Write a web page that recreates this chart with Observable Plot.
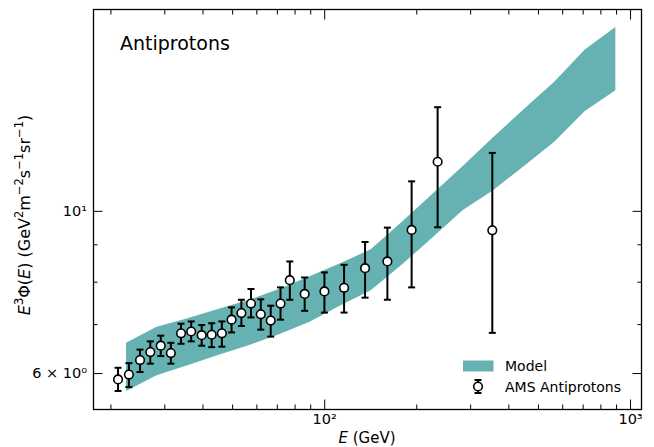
<!DOCTYPE html>
<html><head><meta charset="utf-8">
<script src="https://cdn.jsdelivr.net/npm/d3@7"></script>
<script src="https://cdn.jsdelivr.net/npm/@observablehq/plot@0.6"></script>
<style>
body{margin:0;background:#fff;}
svg{font-family:"DejaVu Sans",sans-serif;}
</style>
</head><body><div id="chart"></div>
<script>
// AMS antiproton data (E in GeV, E^3 flux)
const amsE    = [21.1, 22.9, 24.9, 26.9, 29.1, 31.4, 33.9, 36.6, 39.6, 42.7, 46.1, 49.6, 53.4, 57.4, 61.8, 66.6, 71.7, 76.9, 86.0, 99.8, 115.7, 135.5, 160.3, 192.4, 234.0, 353.2];
const amsFlux = [5.89, 5.98, 6.26, 6.42, 6.55, 6.40, 6.81, 6.85, 6.77, 6.78, 6.81, 7.11, 7.26, 7.48, 7.23, 7.09, 7.48, 8.05, 7.71, 7.77, 7.86, 8.36, 8.54, 9.43, 11.69, 9.42];
const amsHigh = [6.11, 6.20, 6.47, 6.64, 6.76, 6.61, 7.02, 7.07, 6.99, 7.03, 7.07, 7.39, 7.57, 7.83, 7.58, 7.43, 7.87, 8.54, 8.12, 8.25, 8.45, 9.08, 9.50, 10.99, 13.88, 12.02];
const amsLow  = [5.68, 5.75, 6.03, 6.19, 6.34, 6.19, 6.59, 6.64, 6.55, 6.52, 6.53, 6.83, 6.97, 7.16, 6.89, 6.74, 7.11, 7.57, 7.31, 7.27, 7.27, 7.62, 7.57, 7.87, 9.51, 6.82];

// Model band
const modelE    = [22.5, 28.3, 35.7, 44.9, 56.5, 71.1, 89.5, 112.7, 141.9, 178.6, 224.9, 283.1, 356.4, 448.7, 564.9, 711.2, 895.3];
const modelHigh = [6.60, 6.94, 7.13, 7.34, 7.55, 7.82, 8.14, 8.48, 8.86, 9.65, 10.54, 11.51, 12.61, 13.77, 15.01, 16.62, 17.84];
const modelLow  = [5.67, 5.96, 6.15, 6.35, 6.55, 6.78, 7.05, 7.42, 7.79, 8.43, 9.18, 10.02, 10.67, 11.51, 12.43, 13.69, 14.62];

// Axes
const xDomain = [17.54, 1086];
const yDomain = [5.358, 18.88];
const xMajorTicks = [100, 1000];
const xMajorLabels = ["10²", "10³"];
const xMinorTicks = [20, 30, 40, 50, 60, 70, 80, 90, 200, 300, 400, 500, 600, 700, 800, 900];
const yMajorTicks = [6, 10];
const yMajorLabels = ["6 × 10⁰", "10¹"];
const yMinorTicks = [7, 8, 9];

const titleText = "Antiprotons";
const legendLabels = ["Model", "AMS Antiprotons"];
const bandColor = "#66b2b2";

const ams = amsE.map((e, i) => ({E: e, v: amsFlux[i], lo: amsLow[i], hi: amsHigh[i]}));
const model = modelE.map((e, i) => ({E: e, lo: modelLow[i], hi: modelHigh[i]}));

const capSymbol = {draw(ctx, size) { const r = Math.sqrt(size / Math.PI); ctx.moveTo(-r, 0); ctx.lineTo(r, 0); }};
const blank = () => "";
const fmtX = d => xMajorLabels[xMajorTicks.indexOf(d)];
const fmtY = d => yMajorLabels[yMajorTicks.indexOf(d)];

const MAJ = -9.5, MIN = -4.5;

const plot = Plot.plot({
  width: 654, height: 447,
  marginLeft: 93, marginRight: 13, marginTop: 9, marginBottom: 38,
  x: {type: "log", domain: xDomain, label: null},
  y: {type: "log", domain: yDomain, label: null},
  style: {fontFamily: "DejaVu Sans", fontSize: "14px", color: "black", background: "white"},
  marks: [
    Plot.areaY(model, {x: "E", y1: "lo", y2: "hi", fill: bandColor, curve: "linear"}),
    Plot.ruleX(ams, {x: "E", y1: "lo", y2: "hi", stroke: "black", strokeWidth: 2}),
    Plot.dot(ams, {x: "E", y: "lo", symbol: capSymbol, r: 3.5, stroke: "black", strokeWidth: 2}),
    Plot.dot(ams, {x: "E", y: "hi", symbol: capSymbol, r: 3.5, stroke: "black", strokeWidth: 2}),
    Plot.dot(ams, {x: "E", y: "v", r: 4.3, fill: "white", stroke: "black", strokeWidth: 1.6}),
    Plot.frame({stroke: "black", strokeWidth: 1.3}),
    Plot.axisX(xMajorTicks, {anchor: "bottom", tickSize: MAJ, tickPadding: 13.5, tickFormat: fmtX, label: null, fontSize: 14.5}),
    Plot.axisX(xMinorTicks, {anchor: "bottom", tickSize: MIN, tickFormat: blank, label: null}),
    Plot.axisX(xMajorTicks, {anchor: "top", tickSize: MAJ, tickFormat: blank, label: null}),
    Plot.axisX(xMinorTicks, {anchor: "top", tickSize: MIN, tickFormat: blank, label: null}),
    Plot.axisY(yMajorTicks, {anchor: "left", tickSize: MAJ, tickPadding: 16, tickFormat: fmtY, label: null, fontSize: 14.5}),
    Plot.axisY(yMinorTicks, {anchor: "left", tickSize: MIN, tickFormat: blank, label: null}),
    Plot.axisY(yMajorTicks, {anchor: "right", tickSize: MAJ, tickFormat: blank, label: null}),
    Plot.axisY(yMinorTicks, {anchor: "right", tickSize: MIN, tickFormat: blank, label: null})
  ]
});
document.getElementById("chart").appendChild(plot);

const svg = d3.select(plot);
// Title inside axes
svg.append("text").attr("x", 120).attr("y", 49.5).attr("text-anchor", "start").attr("font-size", 19).attr("fill", "black").text(titleText);

// X label
const xl = svg.append("text").attr("x", 367).attr("y", 443).attr("text-anchor", "middle").attr("font-size", 15).attr("fill", "black");
xl.append("tspan").attr("font-style", "italic").text("E");
xl.append("tspan").text(" (GeV)");

// Y label
const yl = svg.append("text").attr("transform", "translate(30,215) rotate(-90)").attr("text-anchor", "middle").attr("font-size", 16).attr("fill", "black");
const sup = (t) => { yl.append("tspan").attr("baseline-shift", "super").attr("font-size", 11.5).text(t); };
yl.append("tspan").attr("font-style", "italic").text("E");
sup("3");
yl.append("tspan").text("Φ(");
yl.append("tspan").attr("font-style", "italic").text("E");
yl.append("tspan").text(") (GeV");
sup("2");
yl.append("tspan").text("m");
sup("−2");
yl.append("tspan").text("s");
sup("−1");
yl.append("tspan").text("sr");
sup("−1");
yl.append("tspan").text(")");

// Legend
const lg = svg.append("g").attr("text-anchor", "start");
lg.append("rect").attr("x", 463).attr("y", 360.5).attr("width", 30.5).attr("height", 11).attr("fill", bandColor);
lg.append("text").attr("x", 505).attr("y", 371).attr("font-size", 14).attr("fill", "black").text(legendLabels[0]);
lg.append("line").attr("x1", 478).attr("x2", 478).attr("y1", 380).attr("y2", 393).attr("stroke", "black").attr("stroke-width", 2);
lg.append("line").attr("x1", 474.5).attr("x2", 481.5).attr("y1", 380).attr("y2", 380).attr("stroke", "black").attr("stroke-width", 2);
lg.append("line").attr("x1", 474.5).attr("x2", 481.5).attr("y1", 393).attr("y2", 393).attr("stroke", "black").attr("stroke-width", 2);
lg.append("circle").attr("cx", 478).attr("cy", 386.5).attr("r", 4.3).attr("fill", "white").attr("stroke", "black").attr("stroke-width", 1.6);
lg.append("text").attr("x", 505).attr("y", 392).attr("font-size", 14).attr("fill", "black").text(legendLabels[1]);
</script>
</body></html>
